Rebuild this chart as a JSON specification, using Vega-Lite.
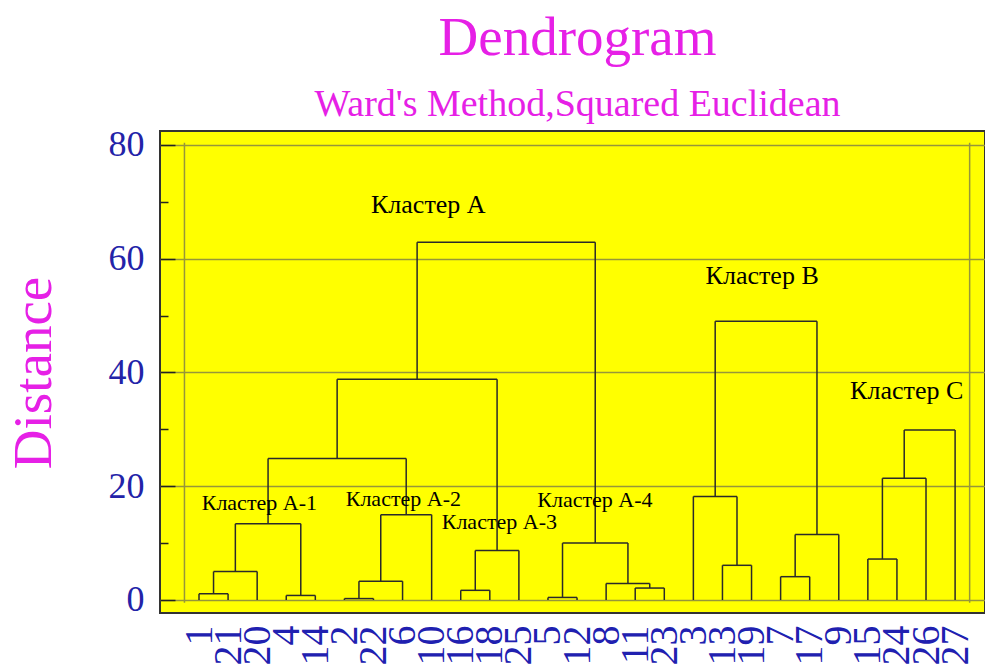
{
  "$schema": "https://vega.github.io/schema/vega-lite/v6.json",
  "width": 825,
  "height": 482,
  "autosize": {"type": "none"},
  "padding": {"left": 160, "top": 131, "right": 0, "bottom": 52},
  "background": "white",
  "config": {
    "view": {"fill": "#ffff00", "stroke": "#333333", "strokeWidth": 2}
  },
  "title": {
    "text": "Dendrogram",
    "subtitle": "Ward's Method,Squared Euclidean",
    "font": "Liberation Serif",
    "fontSize": 55,
    "fontWeight": "normal",
    "color": "#e620e6",
    "subtitleFont": "Liberation Serif",
    "subtitleFontSize": 38,
    "subtitleColor": "#e620e6",
    "subtitlePadding": 19,
    "anchor": "middle",
    "offset": 2,
    "dx": 5
  },
  "datasets": {
    "leaves": [
      {"leaf": "1", "h": 1.1}, {"leaf": "21", "h": 1.1}, {"leaf": "20", "h": 5.0},
      {"leaf": "4", "h": 0.8}, {"leaf": "14", "h": 0.8}, {"leaf": "2", "h": 0.25},
      {"leaf": "22", "h": 0.25}, {"leaf": "6", "h": 3.3}, {"leaf": "10", "h": 15.0},
      {"leaf": "16", "h": 1.7}, {"leaf": "18", "h": 1.7}, {"leaf": "25", "h": 8.7},
      {"leaf": "5", "h": 0.45}, {"leaf": "12", "h": 0.45}, {"leaf": "8", "h": 2.9},
      {"leaf": "11", "h": 2.1}, {"leaf": "23", "h": 2.1}, {"leaf": "3", "h": 18.2},
      {"leaf": "13", "h": 6.1}, {"leaf": "19", "h": 6.1}, {"leaf": "7", "h": 4.1},
      {"leaf": "17", "h": 4.1}, {"leaf": "9", "h": 11.5}, {"leaf": "15", "h": 7.2},
      {"leaf": "24", "h": 7.2}, {"leaf": "26", "h": 21.4}, {"leaf": "27", "h": 29.9}
    ],
    "merges": [
      {"x": 1.5, "xl": 1, "xr": 2, "h": 1.1, "ph": 5.0},
      {"x": 2.25, "xl": 1.5, "xr": 3, "h": 5.0, "ph": 13.4},
      {"x": 4.5, "xl": 4, "xr": 5, "h": 0.8, "ph": 13.4},
      {"x": 3.375, "xl": 2.25, "xr": 4.5, "h": 13.4, "ph": 24.9},
      {"x": 6.5, "xl": 6, "xr": 7, "h": 0.25, "ph": 3.3},
      {"x": 7.25, "xl": 6.5, "xr": 8, "h": 3.3, "ph": 15.0},
      {"x": 8.125, "xl": 7.25, "xr": 9, "h": 15.0, "ph": 24.9},
      {"x": 5.75, "xl": 3.375, "xr": 8.125, "h": 24.9, "ph": 38.8},
      {"x": 10.5, "xl": 10, "xr": 11, "h": 1.7, "ph": 8.7},
      {"x": 11.25, "xl": 10.5, "xr": 12, "h": 8.7, "ph": 38.8},
      {"x": 8.5, "xl": 5.75, "xr": 11.25, "h": 38.8, "ph": 62.9},
      {"x": 13.5, "xl": 13, "xr": 14, "h": 0.45, "ph": 10.0},
      {"x": 16.5, "xl": 16, "xr": 17, "h": 2.1, "ph": 2.9},
      {"x": 15.75, "xl": 15, "xr": 16.5, "h": 2.9, "ph": 10.0},
      {"x": 14.625, "xl": 13.5, "xr": 15.75, "h": 10.0, "ph": 62.9},
      {"x": 11.5625, "xl": 8.5, "xr": 14.625, "h": 62.9, "ph": 62.9},
      {"x": 19.5, "xl": 19, "xr": 20, "h": 6.1, "ph": 18.2},
      {"x": 18.75, "xl": 18, "xr": 19.5, "h": 18.2, "ph": 49.0},
      {"x": 21.5, "xl": 21, "xr": 22, "h": 4.1, "ph": 11.5},
      {"x": 22.25, "xl": 21.5, "xr": 23, "h": 11.5, "ph": 49.0},
      {"x": 20.5, "xl": 18.75, "xr": 22.25, "h": 49.0, "ph": 49.0},
      {"x": 24.5, "xl": 24, "xr": 25, "h": 7.2, "ph": 21.4},
      {"x": 25.25, "xl": 24.5, "xr": 26, "h": 21.4, "ph": 29.9},
      {"x": 26.125, "xl": 25.25, "xr": 27, "h": 29.9, "ph": 29.9}
    ],
    "mainLabels": [
      {"label": "Кластер A", "x": 6.915, "y": 68.0},
      {"label": "Кластер B", "x": 18.42, "y": 55.6},
      {"label": "Кластер C", "x": 23.39, "y": 35.4}
    ],
    "subLabels": [
      {"label": "Кластер A-1", "x": 1.093, "y": 15.9},
      {"label": "Кластер A-2", "x": 6.045, "y": 16.5},
      {"label": "Кластер A-3", "x": 9.346, "y": 12.4},
      {"label": "Кластер A-4", "x": 12.633, "y": 16.4}
    ]
  },
  "resolve": {"scale": {"x": "independent"}},
  "layer": [
    {
      "layer": [
        {
          "data": {"name": "merges"},
          "mark": {"type": "rule", "color": "#2a2a2a", "strokeWidth": 1.5},
          "encoding": {
            "x": {"field": "xl", "type": "quantitative", "scale": {"domain": [-0.3411, 28.028], "nice": false, "zero": false}, "axis": null},
            "x2": {"field": "xr"},
            "y": {
              "field": "h",
              "type": "quantitative",
              "scale": {"domain": [-2.286, 82.46], "nice": false, "zero": false},
              "axis": {
                "values": [0, 5, 10, 15, 20, 25, 30, 35, 40, 45, 50, 55, 60, 65, 70, 75, 80],
                "title": "Distance",
                "titleFont": "Liberation Serif",
                "titleFontSize": 55,
                "titleFontWeight": "normal",
                "titleColor": "#e620e6",
                "titleAngle": 270,
                "titleAlign": "center",
                "titleBaseline": "alphabetic",
                "titleX": -110,
                "titleY": 241.5,
                "labelExpr": "datum.value % 20 === 0 ? datum.label : ''",
                "labelFont": "Liberation Serif",
                "labelFontSize": 36,
                "labelColor": "#2323a8",
                "labelPadding": 31,
                "tickSize": {"condition": {"test": "datum.value % 20 === 0", "value": -15}, "value": -8},
                "tickColor": "#222222",
                "tickWidth": 1.5,
                "domain": false,
                "grid": true,
                "gridColor": "#96963a",
                "gridWidth": 1.5,
                "gridOpacity": {"condition": {"test": "datum.value % 20 === 0", "value": 1}, "value": 0}
              }
            }
          }
        },
        {
          "data": {"values": [{}]},
          "mark": {"type": "rule", "color": "#96963a", "strokeWidth": 1.5},
          "encoding": {
            "x": {"datum": 0.5, "type": "quantitative"},
            "y": {"datum": -0.5, "type": "quantitative"},
            "y2": {"datum": 80.4}
          }
        },
        {
          "data": {"values": [{}]},
          "mark": {"type": "rule", "color": "#96963a", "strokeWidth": 1.5},
          "encoding": {
            "x": {"datum": 27.5, "type": "quantitative"},
            "y": {"datum": -0.5, "type": "quantitative"},
            "y2": {"datum": 80.4}
          }
        },
        {
          "data": {"name": "merges"},
          "mark": {"type": "rule", "color": "#2a2a2a", "strokeWidth": 1.5},
          "encoding": {
            "x": {"field": "x", "type": "quantitative"},
            "y": {"field": "h", "type": "quantitative"},
            "y2": {"field": "ph"}
          }
        },
        {
          "data": {"name": "mainLabels"},
          "mark": {"type": "text", "font": "Liberation Serif", "fontSize": 26, "color": "black", "align": "left", "baseline": "alphabetic"},
          "encoding": {
            "x": {"field": "x", "type": "quantitative"},
            "y": {"field": "y", "type": "quantitative"},
            "text": {"field": "label"}
          }
        },
        {
          "data": {"name": "subLabels"},
          "mark": {"type": "text", "font": "Liberation Serif", "fontSize": 22, "color": "black", "align": "left", "baseline": "alphabetic"},
          "encoding": {
            "x": {"field": "x", "type": "quantitative"},
            "y": {"field": "y", "type": "quantitative"},
            "text": {"field": "label"}
          }
        }
      ]
    },
    {
      "data": {"name": "leaves"},
      "mark": {"type": "rule", "color": "#2a2a2a", "strokeWidth": 1.5},
      "encoding": {
        "x": {
          "field": "leaf",
          "type": "ordinal",
          "sort": null,
          "scale": {"type": "point", "range": [39, 795.1], "padding": 0},
          "axis": {
            "orient": "bottom",
            "title": null,
            "labelAngle": -90,
            "labelFont": "Liberation Serif",
            "labelFontSize": 40,
            "labelColor": "#2020b0",
            "ticks": false,
            "domain": false,
            "grid": false,
            "labelPadding": 12,
            "labelOverlap": false
          }
        },
        "y": {
          "field": "h",
          "type": "quantitative",
          "scale": {"domain": [-2.286, 82.46], "nice": false, "zero": false}
        },
        "y2": {"datum": 0}
      }
    }
  ]
}
